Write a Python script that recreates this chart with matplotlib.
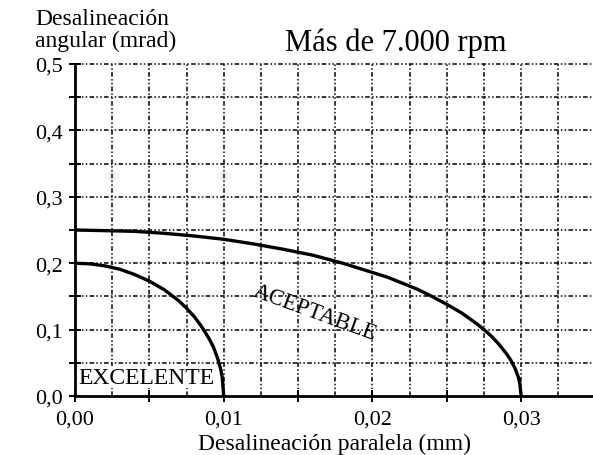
import numpy as np
import matplotlib
matplotlib.use("Agg")
from matplotlib import pyplot as plt
from matplotlib.ticker import MultipleLocator, FuncFormatter

plt.rcParams['font.family'] = ['Liberation Serif', 'DejaVu Serif']

# curves (parallel mm, angular mrad)
excelente_x = [0, 0.001, 0.002, 0.003, 0.004, 0.005, 0.006, 0.007, 0.0075, 0.008,
               0.0085, 0.009, 0.0093, 0.0096, 0.0098, 0.0099, 0.01]
excelente_y = [0.2, 0.199, 0.196, 0.191, 0.183, 0.173, 0.16, 0.143, 0.132, 0.12,
               0.105, 0.087, 0.074, 0.056, 0.040, 0.028, 0.0]
aceptable_x = [0, 0.002, 0.004, 0.006, 0.008, 0.010, 0.012, 0.014, 0.016, 0.018,
               0.020, 0.021, 0.022, 0.023, 0.024, 0.025, 0.026, 0.0265, 0.027, 0.0275,
               0.028, 0.0285, 0.029, 0.0293, 0.0296, 0.0298, 0.0299, 0.03]
aceptable_y = [0.25, 0.249, 0.248, 0.245, 0.241, 0.236, 0.229, 0.221, 0.212, 0.2,
               0.186, 0.179, 0.17, 0.161, 0.15, 0.138, 0.125, 0.117, 0.109, 0.1,
               0.09, 0.078, 0.064, 0.054, 0.041, 0.029, 0.02, 0.0]

x_ticks = [0.0, 0.01, 0.02, 0.03]
y_ticks = [0.0, 0.1, 0.2, 0.3, 0.4, 0.5]

fig = plt.figure(figsize=(5.93, 4.56), dpi=100)
ax = fig.add_axes([0.1265, 0.1294, 0.8735, 0.7281])

ax.set_xlim(0, 0.03483)
ax.set_ylim(0, 0.5)

ax.plot(excelente_x, excelente_y, color='black', lw=2.4, solid_capstyle='butt',
        solid_joinstyle='round', clip_on=False, zorder=3)
ax.plot(aceptable_x, aceptable_y, color='black', lw=2.4, solid_capstyle='butt',
        solid_joinstyle='round', clip_on=False, zorder=3)

# dash-dot-dot grid
grid_style = dict(color='black', lw=1.1, dashes=(3, 1.5, 1, 1.5, 1, 1.5), clip_on=False)
for gx in np.arange(0.0025, 0.0349, 0.0025):
    ax.axvline(gx, **grid_style, zorder=0)
for gy in np.arange(0.05, 0.501, 0.05):
    ax.axhline(gy, **grid_style, zorder=0)

ax.set_xticks(x_ticks)
ax.set_yticks(y_ticks)
ax.xaxis.set_minor_locator(MultipleLocator(0.005))
ax.yaxis.set_minor_locator(MultipleLocator(0.05))
ax.xaxis.set_major_formatter(FuncFormatter(lambda v, p: f"{v:.2f}".replace('.', ',')))
ax.yaxis.set_major_formatter(FuncFormatter(lambda v, p: f"{v:.1f}".replace('.', ',')))
ax.tick_params(which='both', direction='inout', length=9, width=1.4, labelsize=16)
ax.tick_params(axis='y', which='major', pad=4)
ax.tick_params(axis='x', which='major', pad=5)

for s in ['top', 'right']:
    ax.spines[s].set_visible(False)
for s in ['left', 'bottom']:
    ax.spines[s].set_linewidth(2)

ax.set_xlabel('Desalineación paralela (mm)', fontsize=17, labelpad=3)
fig.text(0.059, 0.885, 'Desalineación\nangular (mrad)', fontsize=17, ha='left', va='bottom', linespacing=1.05)
fig.text(0.668, 0.905, 'Más de 7.000 rpm', fontsize=22, ha='center', va='center')

ax.text(0.0161, 0.126, 'ACEPTABLE', fontsize=16.5, rotation=-20, ha='center', va='center')
ax.text(0.0002, 0.028, 'EXCELENTE', fontsize=17, ha='left', va='center',
        bbox=dict(facecolor='white', edgecolor='none', pad=0.3), zorder=2)

fig.savefig('out.png', dpi=100)
